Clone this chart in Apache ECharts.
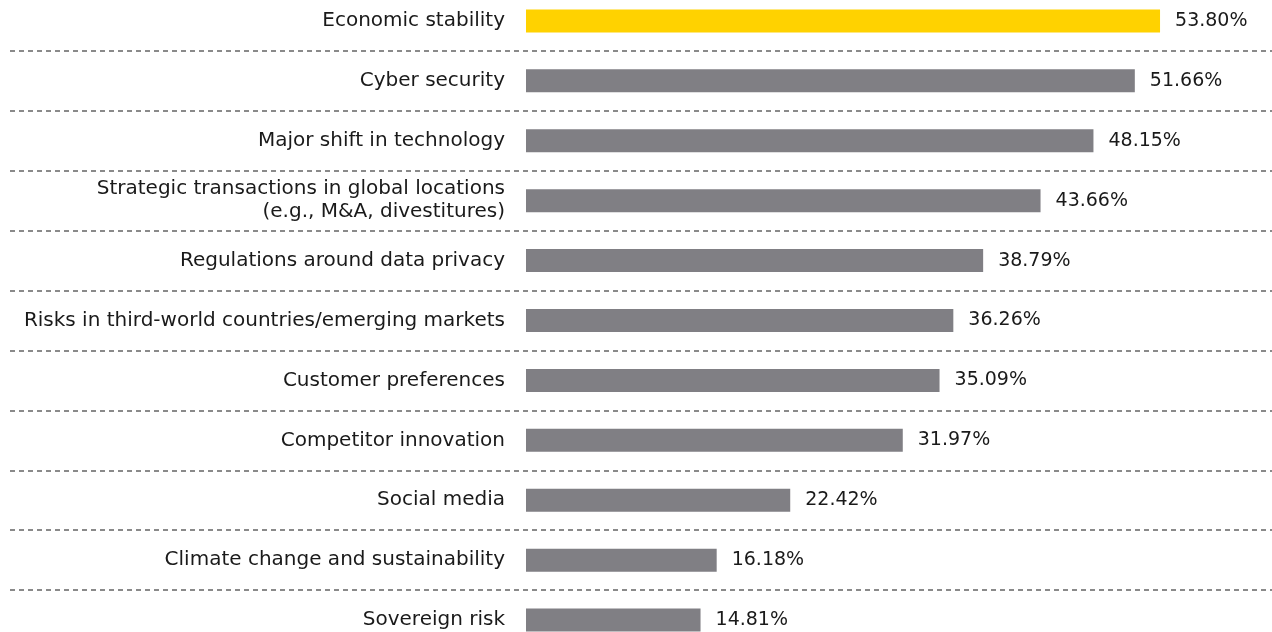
<!DOCTYPE html>
<html>
<head>
<meta charset="utf-8">
<script src="https://cdn.jsdelivr.net/npm/echarts@6/dist/echarts.min.js"></script>
<style>
html,body{margin:0;padding:0;background:#fff;overflow:hidden;width:1272px;height:632px;}
#chart{position:absolute;left:0;top:-9px;width:1272px;height:659px;}
</style>
</head>
<body>
<div id="chart"></div>
<script>
const categories = [
  "Economic stability",
  "Cyber security",
  "Major shift in technology",
  "Strategic transactions in global locations\n(e.g., M&A, divestitures)",
  "Regulations around data privacy",
  "Risks in third-world countries/emerging markets",
  "Customer preferences",
  "Competitor innovation",
  "Social media",
  "Climate change and sustainability",
  "Sovereign risk"
];
const values = [53.80, 51.66, 48.15, 43.66, 38.79, 36.26, 35.09, 31.97, 22.42, 16.18, 14.81];
const highlightIndex = 0;

const FONT = '"DejaVu Sans", sans-serif';
const chart = echarts.init(document.getElementById('chart'));
chart.setOption({
  animation: false,
  backgroundColor: '#ffffff',
  grid: [
    {left: 526, right: 0, top: 0, bottom: 0},
    {left: 10, right: 0, top: 0, bottom: 0}
  ],
  xAxis: [
    {gridIndex: 0, type: 'value', min: 0, max: 63.3, show: false},
    {gridIndex: 1, type: 'value', min: 0, max: 1, show: false}
  ],
  yAxis: [
    {
      gridIndex: 0, type: 'category', inverse: true, data: categories,
      axisLine: {show: false}, axisTick: {show: false}, splitLine: {show: false},
      axisLabel: {margin: 21, color: '#1a1a1a', fontSize: 20, fontFamily: FONT, lineHeight: 23, align: 'right'}
    },
    {
      gridIndex: 1, type: 'category', inverse: true, data: categories,
      axisLine: {show: false}, axisTick: {show: false}, axisLabel: {show: false},
      splitLine: {show: true, lineStyle: {color: '#8a8a8a', width: 2, type: [5, 4]}}
    }
  ],
  series: [{
    type: 'bar',
    xAxisIndex: 0, yAxisIndex: 0,
    barWidth: 23,
    data: values.map((v, i) => ({
      value: v,
      itemStyle: {color: i === highlightIndex ? '#FFD200' : '#807f84'}
    })),
    label: {
      show: true, position: 'right', distance: 15,
      color: '#1a1a1a', fontSize: 19, fontFamily: FONT,
      formatter: p => p.value.toFixed(2) + '%'
    }
  }]
});
</script>
</body>
</html>
